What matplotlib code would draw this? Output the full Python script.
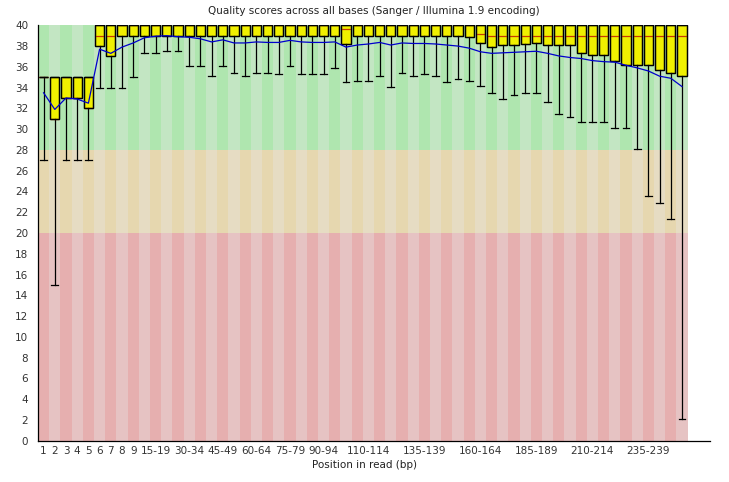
import matplotlib
matplotlib.use("Agg")
import matplotlib.pyplot as plt
import numpy as np

# ---- data ----
categories = [str(i) for i in range(1, 10)] + [f"{a}-{a+4}" for a in range(10, 250, 5)] + ["250-251"]
q1 = [35, 31, 33, 33, 32, 38, 37, 39, 39, 39,
      39, 39, 39, 39, 39, 39, 39, 39, 39, 39,
      39, 39, 39, 39, 39, 39, 39, 38.2, 39, 39,
      39, 39, 39, 39, 39, 39, 39, 39, 38.85, 38.25,
      37.95, 38.1, 38.15, 38.2, 38.25, 38.1, 38.1, 38.1, 37.3, 37.1,
      37.1, 36.6, 36.15, 36.15, 36.15, 35.65, 35.45, 35.1]
median = [35, 31, 33, 33, 32, 39, 39, 40, 40, 40,
          40, 40, 40, 40, 40, 40, 40, 40, 40, 40,
          40, 40, 40, 40, 40, 40, 40, 39.6, 40, 40,
          40, 40, 40, 40, 40, 40, 40, 40, 40, 39.2,
          39, 39, 39, 39, 39, 39, 39, 39, 39, 39,
          39, 39, 39, 39, 39, 39, 39, 39]
q3 = [35, 35, 35, 35, 35] + [40] * 53
whisk_lo = [27, 15, 27, 27, 27, 34, 34, 34, 35, 37.3,
            37.3, 37.5, 37.5, 36.1, 36.1, 35.1, 36.1, 35.45, 35.1, 35.45,
            35.45, 35.3, 36.1, 35.3, 35.3, 35.3, 35.85, 34.5, 34.6, 34.6,
            35.1, 34.1, 35.45, 35.1, 35.3, 35.1, 34.5, 34.85, 34.6, 34.2,
            33.45, 32.9, 33.27, 33.5, 33.5, 32.65, 31.45, 31.2, 30.65, 30.65,
            30.65, 30.1, 30.1, 28.07, 23.55, 22.9, 21.3, 2.1]
whisk_hi = [35, 35, 35, 35, 35] + [40] * 53
mean = [33.5, 31.9, 33.0, 32.9, 32.5, 37.7, 37.3, 37.9, 38.3, 38.8,
        38.95, 39.0, 38.9, 38.85, 38.7, 38.4, 38.6, 38.3, 38.3, 38.4,
        38.35, 38.35, 38.55, 38.4, 38.35, 38.35, 38.4, 37.9, 38.1, 38.2,
        38.35, 38.1, 38.3, 38.25, 38.25, 38.2, 38.1, 38.0, 37.8, 37.45,
        37.3, 37.35, 37.4, 37.45, 37.5, 37.3, 37.05, 36.9, 36.8, 36.6,
        36.5, 36.45, 36.15, 35.9, 35.6, 35.1, 34.9, 34.1]
shown_ticks = ["1", "2", "3", "4", "5", "6", "7", "8", "9", "15-19", "30-34", "45-49",
               "60-64", "75-79", "90-94", "110-114", "135-139", "160-164",
               "185-189", "210-214", "235-239"]
bands = [(0, 20), (20, 28), (28, 40)]
band_light = [(230/255, 195/255, 195/255), (230/255, 220/255, 195/255), (195/255, 230/255, 195/255)]
band_dark = [(230/255, 175/255, 175/255), (230/255, 215/255, 175/255), (175/255, 230/255, 175/255)]

n = len(categories)
x = np.arange(n)

fig = plt.figure(figsize=(7.29, 4.82), dpi=100)
ax = fig.add_axes([38/729, (482-440.7)/482, (710-38)/729, (440.7-25.3)/482])

# background stripes
for (lo, hi), cl, cd in zip(bands, band_light, band_dark):
    cols = [cd if i % 2 == 0 else cl for i in range(n)]
    ax.bar(x, hi - lo, bottom=lo, width=1.0, color=cols, linewidth=0, zorder=0)

stats = [dict(whislo=whisk_lo[i], q1=q1[i], med=median[i], q3=q3[i], whishi=whisk_hi[i], mean=mean[i])
         for i in range(n)]
ax.bxp(stats, positions=x, widths=0.82, showfliers=False, showmeans=False, patch_artist=True,
       boxprops=dict(facecolor=(240/255, 240/255, 0), edgecolor='black', linewidth=0.9),
       medianprops=dict(color=(200/255, 60/255, 0), linewidth=0.9),
       whiskerprops=dict(color='black', linewidth=0.9),
       capprops=dict(color='black', linewidth=0.9), capwidths=0.62,
       manage_ticks=False, zorder=3)
# outline on top of median
ax.bar(x, np.array(q3) - np.array(q1), bottom=q1, width=0.82, fill=False,
       edgecolor='black', linewidth=0.9, zorder=4)

ax.plot(x, mean, color=(0, 0, 0.8), linewidth=0.9, zorder=5)

ax.set_xlim(-0.5, -0.5 + 672/11.2)
ax.set_ylim(0, 40)
ax.set_yticks(np.arange(0, 41, 2))
ax.tick_params(axis='y', length=0, labelsize=7.5, pad=7, colors='#333333')
tick_pos = [categories.index(t) for t in shown_ticks]
ax.set_xticks(tick_pos)
ax.set_xticklabels(shown_ticks)
ax.tick_params(axis='x', length=0, labelsize=7.5, pad=4, colors='#333333')
for s in ['top', 'right']:
    ax.spines[s].set_visible(False)
for s in ['left', 'bottom']:
    ax.spines[s].set_color('black')
    ax.spines[s].set_linewidth(0.9)

fig.text((38+710)/2/729, 1 - 11/482, "Quality scores across all bases (Sanger / Illumina 1.9 encoding)",
         ha='center', va='center', fontsize=7.5, color='#222222')
fig.text(365/729, 1 - 465/482, "Position in read (bp)", ha='center', va='center', fontsize=7.5, color='#222222')

fig.savefig("out.png", dpi=100)
